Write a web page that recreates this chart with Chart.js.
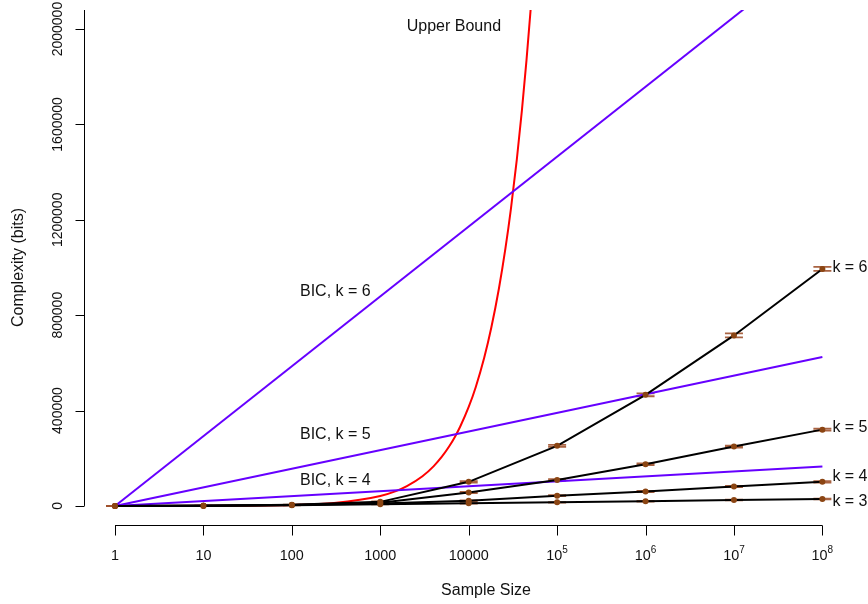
<!DOCTYPE html>
<html>
<head>
<meta charset="utf-8">
<script src="https://cdn.jsdelivr.net/npm/chart.js@4.4.0/dist/chart.umd.min.js"></script>
<style>
  html, body { margin: 0; padding: 0; background: #fff; }
</style>
</head>
<body>
<canvas id="chart" width="868" height="604"></canvas>
<script>
// sample sizes (x) and measured complexity per k
const sampleSizes = [1, 10, 100, 1000, 10000, 1e5, 1e6, 1e7, 1e8];
const k3 = [0, 400, 2500, 7000, 11000, 15000, 20000, 25000, 29000];
const k4 = [0, 500, 3500, 10000, 22000, 43000, 61000, 81000, 101000];
const k5 = [0, 600, 4000, 13000, 56000, 109000, 175000, 249000, 320000];
const k6 = [0, 800, 5000, 17000, 101000, 252000, 466000, 715000, 994000];
const k3Err = [0, 0, 200, 800, 1000, 1200, 1500, 1500, 1500];
const k4Err = [0, 0, 300, 1000, 1500, 2000, 2500, 2500, 3000];
const k5Err = [0, 0, 400, 1500, 2500, 3000, 3500, 4000, 4500];
const k6Err = [0, 0, 500, 2000, 3000, 4000, 6000, 8400, 8400];
const kNames = ['k = 3', 'k = 4', 'k = 5', 'k = 6'];
const kLabelY = [18000, 122000, 330000, 1000000];

// BIC reference lines
const bicSizes = [1, 1e8];
const bicK4 = [0, 165000];
const bicK5 = [0, 625000];
const bicK6 = [0, 2344000];

// upper bound curve
const upperSizes = [1, 10, 100, 300, 1000, 1500, 2000, 3000, 4000, 5000, 6000, 7000, 8000,
  10000, 12000, 15000, 18000, 22000, 26000, 30000, 35000, 40000, 45000, 50000, 55000];
const upperBound = [41, 415, 4150, 12500, 41500, 62000, 83000, 124500, 166000, 207500, 249000,
  290500, 332000, 415000, 498000, 622500, 747000, 913000, 1079000, 1245000, 1452500, 1660000,
  1867500, 2075000, 2282500];

// axis ticks
const xTicks = [1, 10, 100, 1000, 10000, 1e5, 1e6, 1e7, 1e8];
const xTickBase = ['1', '10', '100', '1000', '10000', '10', '10', '10', '10'];
const xTickExp = ['', '', '', '', '', '5', '6', '7', '8'];
const yTicks = [0, 400000, 800000, 1200000, 1600000, 2000000];
const yTickLabels = ['0', '400000', '800000', '1200000', '1600000', '2000000'];

const FONT = '"Liberation Sans", Arial, Helvetica, sans-serif';
const PURPLE = '#6600ff';
const POINT_BROWN = '#8b4513';
const CAP_BROWN = 'rgba(160, 82, 45, 0.9)';

const kSeries = [k3, k4, k5, k6];
const kErrs = [k3Err, k4Err, k5Err, k6Err];

function toPoints(xs, ys) {
  return xs.map((x, i) => ({ x: x, y: ys[i] }));
}

const annotations = [
  { text: 'BIC, k = 6', x: 310, y: 900000 },
  { text: 'BIC, k = 5', x: 310, y: 300000 },
  { text: 'BIC, k = 4', x: 310, y: 105000 },
  { text: 'Upper Bound', x: 6800, y: 2010000 }
];

const rStyle = {
  id: 'rStyle',
  beforeDatasetsDraw(chart) {
    const ctx = chart.ctx, xs = chart.scales.x, ys = chart.scales.y;
    ctx.save();
    ctx.strokeStyle = CAP_BROWN;
    ctx.lineWidth = 1.8;
    kSeries.forEach((vals, j) => {
      vals.forEach((v, i) => {
        const px = xs.getPixelForValue(sampleSizes[i]);
        const hi = ys.getPixelForValue(v + kErrs[j][i]);
        const lo = ys.getPixelForValue(v - kErrs[j][i]);
        ctx.beginPath();
        ctx.moveTo(px, hi); ctx.lineTo(px, lo);
        ctx.moveTo(px - 9, hi); ctx.lineTo(px + 9, hi);
        ctx.moveTo(px - 9, lo); ctx.lineTo(px + 9, lo);
        ctx.stroke();
      });
    });
    ctx.restore();
  },
  afterDraw(chart) {
    const ctx = chart.ctx, xs = chart.scales.x, ys = chart.scales.y, area = chart.chartArea;
    ctx.save();
    ctx.strokeStyle = '#000';
    ctx.fillStyle = '#111';
    ctx.lineWidth = 1;

    // x axis
    const x0 = xs.getPixelForValue(xTicks[0]);
    const x1 = xs.getPixelForValue(xTicks[xTicks.length - 1]);
    const axY = Math.round(area.bottom) + 0.5;
    ctx.beginPath();
    ctx.moveTo(x0, axY); ctx.lineTo(x1, axY);
    xTicks.forEach(t => {
      const px = Math.round(xs.getPixelForValue(t)) + 0.5;
      ctx.moveTo(px, axY); ctx.lineTo(px, axY + 10);
    });
    ctx.stroke();
    ctx.textBaseline = 'middle';
    xTicks.forEach((t, i) => {
      const px = xs.getPixelForValue(t);
      ctx.font = '14.4px ' + FONT;
      const bw = ctx.measureText(xTickBase[i]).width;
      let ew = 0;
      if (xTickExp[i]) {
        ctx.font = '10px ' + FONT;
        ew = ctx.measureText(xTickExp[i]).width;
      }
      const left = px - (bw + ew) / 2;
      ctx.font = '14.4px ' + FONT;
      ctx.textAlign = 'left';
      ctx.fillText(xTickBase[i], left, 556);
      if (xTickExp[i]) {
        ctx.font = '10px ' + FONT;
        ctx.fillText(xTickExp[i], left + bw, 550);
      }
    });

    // y axis
    const axX = Math.round(area.left) + 0.5;
    ctx.beginPath();
    ctx.moveTo(axX, ys.getPixelForValue(yTicks[0]));
    ctx.lineTo(axX, area.top);
    yTicks.forEach(t => {
      const py = Math.round(ys.getPixelForValue(t)) + 0.5;
      ctx.moveTo(axX, py); ctx.lineTo(axX - 9, py);
    });
    ctx.stroke();
    ctx.font = '14px ' + FONT;
    ctx.textAlign = 'center';
    yTicks.forEach((t, i) => {
      ctx.save();
      ctx.translate(58, ys.getPixelForValue(t));
      ctx.rotate(-Math.PI / 2);
      ctx.fillText(yTickLabels[i], 0, 0);
      ctx.restore();
    });

    // axis titles
    ctx.font = '16px ' + FONT;
    ctx.fillText('Sample Size', 486, 591);
    ctx.save();
    ctx.translate(19, (area.top + area.bottom) / 2);
    ctx.rotate(-Math.PI / 2);
    ctx.fillText('Complexity (bits)', 0, 0);
    ctx.restore();

    // annotations
    ctx.font = '16px ' + FONT;
    ctx.textAlign = 'center';
    annotations.forEach(a => {
      ctx.fillText(a.text, xs.getPixelForValue(a.x), ys.getPixelForValue(a.y));
    });
    ctx.textAlign = 'left';
    kNames.forEach((name, j) => {
      ctx.fillText(name, xs.getPixelForValue(sampleSizes[sampleSizes.length - 1]) + 10,
        ys.getPixelForValue(kLabelY[j]));
    });
    ctx.restore();
  }
};

const datasets = [];
kSeries.slice().reverse().forEach(vals => {
  datasets.push({
    data: toPoints(sampleSizes, vals),
    showLine: true,
    borderColor: '#000',
    borderWidth: 2,
    pointRadius: 3,
    pointBackgroundColor: POINT_BROWN,
    pointBorderWidth: 0
  });
});
[bicK6, bicK5, bicK4].forEach(vals => {
  datasets.push({
    data: toPoints(bicSizes, vals),
    showLine: true,
    borderColor: PURPLE,
    borderWidth: 2,
    pointRadius: 0
  });
});
datasets.push({
  data: toPoints(upperSizes, upperBound),
  showLine: true,
  borderColor: '#ff0000',
  borderWidth: 2,
  pointRadius: 0,
  cubicInterpolationMode: 'monotone'
});

new Chart(document.getElementById('chart').getContext('2d'), {
  type: 'scatter',
  data: { datasets: datasets },
  options: {
    responsive: false,
    animation: false,
    devicePixelRatio: 1,
    layout: { padding: { left: 84, right: 0, top: 10, bottom: 79 } },
    plugins: { legend: { display: false }, tooltip: { enabled: false } },
    scales: {
      x: { type: 'logarithmic', display: false, bounds: 'data', min: Math.pow(10, -0.3508), max: Math.pow(10, 8.4707) },
      y: { type: 'linear', display: false, bounds: 'data', min: -80000, max: 2080000 }
    }
  },
  plugins: [rStyle]
});
</script>
</body>
</html>
